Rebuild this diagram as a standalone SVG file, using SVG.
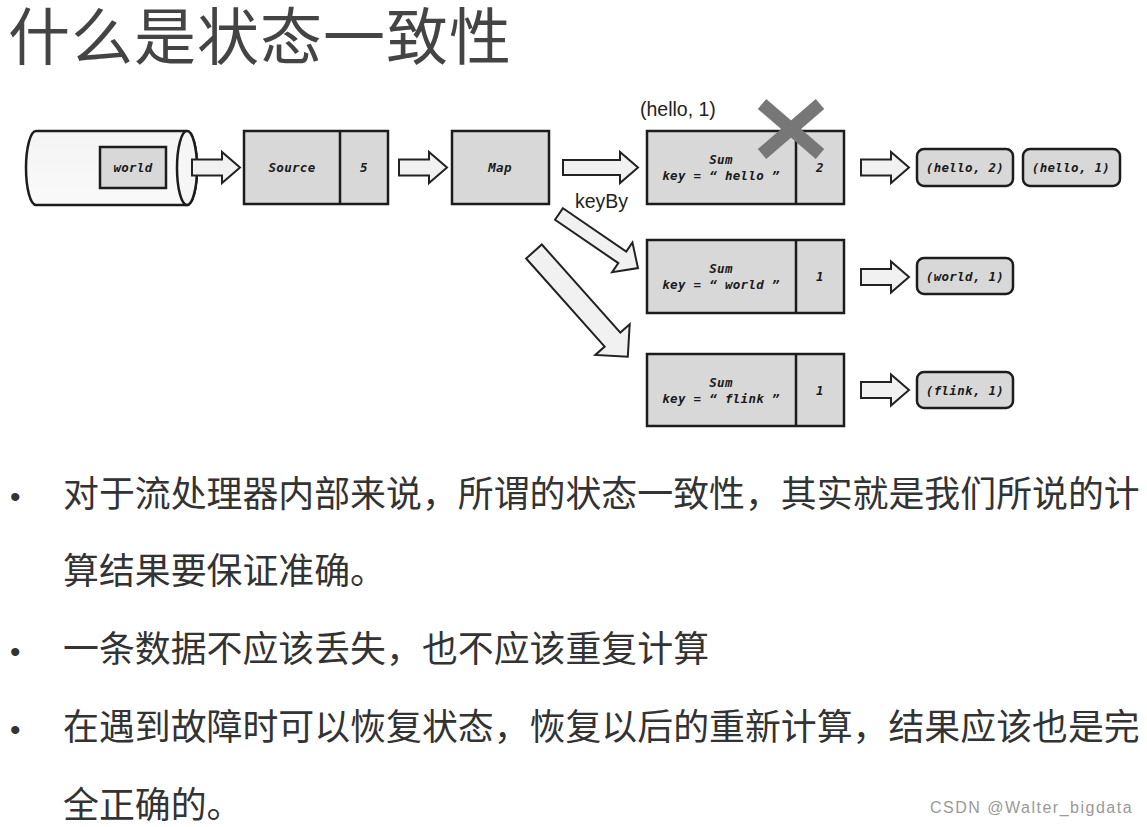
<svg xmlns="http://www.w3.org/2000/svg" width="1147" height="827" viewBox="0 0 1147 827">
<defs>
<style>
.box{fill:#d8d8d8;stroke:#1c1c1c;stroke-width:2.5}
.out{fill:#d8d8d8;stroke:#1c1c1c;stroke-width:2.5}
.arr{fill:#f1f1f1;stroke:#222;stroke-width:2;stroke-linejoin:miter}
.mono{font-family:"DejaVu Sans Mono","Liberation Mono",monospace;font-style:italic;font-weight:bold;font-size:12.5px;fill:#1a1a1a;text-anchor:middle;letter-spacing:0.3px}
.lbl{font-family:"Liberation Sans",Arial,sans-serif;font-size:19.5px;fill:#222}
.body{font-family:"Noto Sans CJK SC","Noto Sans",sans-serif;font-size:35.9px;fill:#333}
.dot{font-family:"Liberation Sans",Arial,sans-serif;font-size:30px;fill:#333}
</style>
<linearGradient id="cyl" x1="0" y1="0" x2="0" y2="1">
<stop offset="0" stop-color="#f4f4f4"/>
<stop offset="1" stop-color="#fafafa"/>
</linearGradient>
<polygon id="harr" points="0,-8 30,-8 30,-15.5 48,0 30,15.5 30,8 0,8"/>
</defs>
<rect width="1147" height="827" fill="#fff"/>

<text x="8" y="60" font-family="'Noto Sans CJK SC',sans-serif" font-size="62" fill="#444" letter-spacing="1">什么是状态一致性</text>

<g id="cylinder">
<path d="M36 131 L187 131 A10 37 0 0 1 187 205 L36 205 A10 37 0 0 1 36 131 Z" fill="url(#cyl)" stroke="#1c1c1c" stroke-width="2.5"/>
<ellipse cx="187" cy="168" rx="10" ry="37" fill="#f6f6f6" stroke="#1c1c1c" stroke-width="2.5"/>
<rect x="100" y="147" width="66" height="41" class="box"/>
<text x="133" y="172" class="mono">world</text>
</g>

<g id="source">
<rect x="244" y="131" width="144" height="73" class="box"/>
<line x1="340" y1="131" x2="340" y2="204" stroke="#1c1c1c" stroke-width="2.5"/>
<text x="292" y="172" class="mono">Source</text>
<text x="364" y="172" class="mono">5</text>
</g>

<g id="map">
<rect x="452" y="131" width="97" height="73" class="box"/>
<text x="500" y="172" class="mono">Map</text>
</g>

<g id="sum-hello">
<rect x="647" y="131" width="197" height="73" class="box"/>
<line x1="796" y1="131" x2="796" y2="204" stroke="#1c1c1c" stroke-width="2.5"/>
<text x="721" y="164" class="mono">Sum</text>
<text x="721" y="180" class="mono">key = “ hello ”</text>
<text x="820" y="172" class="mono">2</text>
<text x="640" y="116" class="lbl">(hello, 1)</text>
<g stroke="#777" stroke-width="13">
<line x1="762" y1="104" x2="820" y2="154"/>
<line x1="820" y1="104" x2="762" y2="154"/>
</g>
</g>

<g id="sum-world">
<rect x="647" y="240" width="197" height="73" class="box"/>
<line x1="796" y1="240" x2="796" y2="313" stroke="#1c1c1c" stroke-width="2.5"/>
<text x="721" y="273" class="mono">Sum</text>
<text x="721" y="289" class="mono">key = “ world ”</text>
<text x="820" y="281" class="mono">1</text>
</g>

<g id="sum-flink">
<rect x="647" y="354" width="197" height="72" class="box"/>
<line x1="796" y1="354" x2="796" y2="426" stroke="#1c1c1c" stroke-width="2.5"/>
<text x="721" y="387" class="mono">Sum</text>
<text x="721" y="403" class="mono">key = “ flink ”</text>
<text x="820" y="395" class="mono">1</text>
</g>

<g id="out-hello2">
<rect x="917" y="149" width="96" height="37" rx="7" class="out"/>
<text x="965" y="172" class="mono">(hello, 2)</text>
</g>
<g id="out-hello1">
<rect x="1023" y="149" width="97" height="37" rx="7" class="out"/>
<text x="1071" y="172" class="mono">(hello, 1)</text>
</g>
<g id="out-world">
<rect x="917" y="258" width="96" height="36" rx="7" class="out"/>
<text x="965" y="281" class="mono">(world, 1)</text>
</g>
<g id="out-flink">
<rect x="917" y="372" width="96" height="36" rx="7" class="out"/>
<text x="965" y="395" class="mono">(flink, 1)</text>
</g>

<g id="connectors">
<use href="#harr" class="arr" transform="translate(192,167.5)"/>
<use href="#harr" class="arr" transform="translate(399,167.5)"/>
<polygon class="arr" points="563,160 620,160 620,152 638,167.5 620,183 620,175 563,175"/>
<use href="#harr" class="arr" transform="translate(861,167.5)"/>
<use href="#harr" class="arr" transform="translate(861,277)"/>
<use href="#harr" class="arr" transform="translate(861,390)"/>
<polygon class="arr" transform="translate(559,214) rotate(34.4)" points="0,-7 76.7,-7 76.7,-18 95.7,0 76.7,18 76.7,7 0,7"/>
<polygon class="arr" transform="translate(534,251.5) rotate(48.3)" points="0,-10.5 118,-10.5 118,-23 141,0 118,23 118,10.5 0,10.5"/>
<text x="575" y="208" class="lbl">keyBy</text>
</g>

<g id="bullets">
<text x="10" y="507" class="dot">•</text>
<text x="63" y="507" class="body">对于流处理器内部来说，所谓的状态一致性，其实就是我们所说的计</text>
<text x="63" y="584" class="body">算结果要保证准确。</text>
<text x="10" y="662" class="dot">•</text>
<text x="63" y="662" class="body">一条数据不应该丢失，也不应该重复计算</text>
<text x="10" y="740" class="dot">•</text>
<text x="63" y="740" class="body">在遇到故障时可以恢复状态，恢复以后的重新计算，结果应该也是完</text>
<text x="63" y="818" class="body">全正确的。</text>
</g>

<text x="930" y="813" font-family="'Liberation Sans',Arial,sans-serif" font-size="16" fill="#999" letter-spacing="1.5">CSDN @Walter_bigdata</text>
</svg>
